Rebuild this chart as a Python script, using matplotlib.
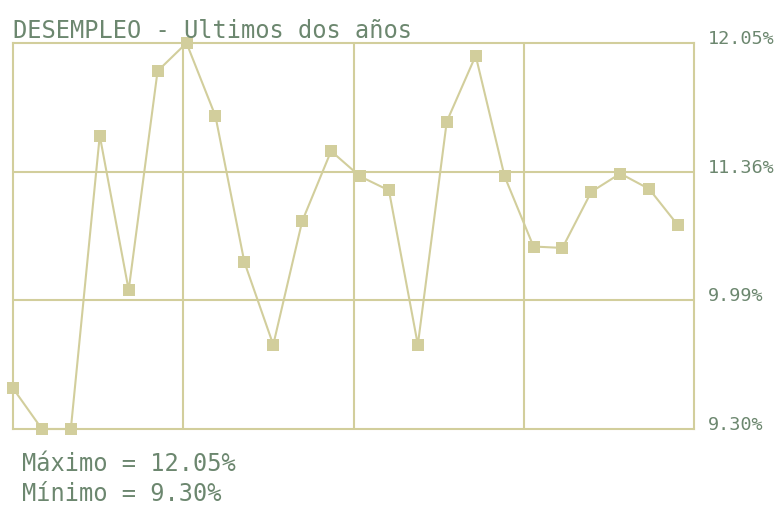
import numpy as np
import matplotlib
matplotlib.use('Agg')
import matplotlib.pyplot as plt

# Tasa de desempleo mensual, ultimos dos años
meses = list(range(24))
desempleo = [9.59, 9.30, 9.30, 11.39, 10.29, 11.85, 12.05, 11.53,
             10.49, 9.90, 10.78, 11.28, 11.10, 11.00, 9.90, 11.49,
             11.96, 11.10, 10.60, 10.59, 10.99, 11.12, 11.01, 10.75]
etiquetas_y = ['9.30%', '9.99%', '11.36%', '12.05%']

color_linea = '#d2ce9c'
color_texto = '#6c876f'
fuente = 'DejaVu Sans Mono'

y_min, y_max = min(desempleo), max(desempleo)
x_max = 23.55

fig = plt.figure(figsize=(7.79, 5.06), dpi=100)
ax = fig.add_axes([13 / 779, 76 / 506, 681 / 779, 386 / 506])

ax.plot(meses, desempleo, color=color_linea, linewidth=1.5, marker='s',
        markersize=8.3, markeredgewidth=0, markerfacecolor=color_linea,
        clip_on=False, zorder=3)

ax.set_xlim(0, x_max)
ax.set_ylim(y_min, y_max)

# cuadricula: 4 columnas, 3 filas
for i in range(1, 4):
    ax.axvline(x_max * i / 4, color=color_linea, linewidth=1.5, zorder=1)
for i in range(1, 3):
    ax.axhline(y_min + (y_max - y_min) * i / 3, color=color_linea,
               linewidth=1.5, zorder=1)

for s in ax.spines.values():
    s.set_color(color_linea)
    s.set_linewidth(1.5)

ax.set_xticks([])
pos_y = [y_min + (y_max - y_min) * i / 3 for i in range(4)]
ax.yaxis.tick_right()
ax.set_yticks(pos_y)
ax.set_yticklabels(etiquetas_y)
ax.tick_params(axis='y', length=0, pad=10, labelsize=13.3, labelcolor=color_texto)
for lbl in ax.get_yticklabels():
    lbl.set_family(fuente)
    lbl.set_va('baseline')

fig.text(13 / 779, 1 - 38 / 506, 'DESEMPLEO - Ultimos dos años', family=fuente,
         fontsize=17, color=color_texto, va='baseline', ha='left')
fig.text(22 / 779, 1 - 471 / 506, 'Máximo = %.2f%%' % y_max, family=fuente,
         fontsize=17, color=color_texto, va='baseline', ha='left')
fig.text(22 / 779, 1 - 501 / 506, 'Mínimo = %.2f%%' % y_min, family=fuente,
         fontsize=17, color=color_texto, va='baseline', ha='left')

fig.savefig('out.png', dpi=100)
